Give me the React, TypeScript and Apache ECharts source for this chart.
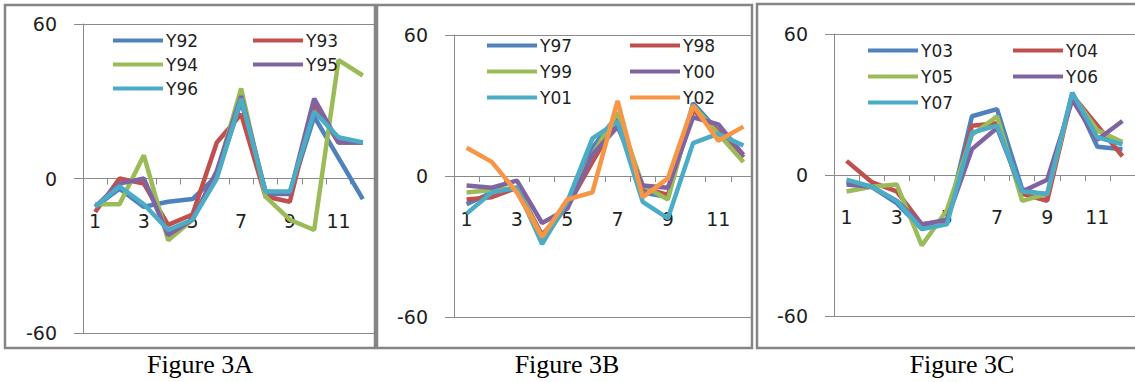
import React, { useEffect, useRef } from "react";
import * as echarts from "echarts";

const categories = ["1", "2", "3", "4", "5", "6", "7", "8", "9", "10", "11", "12"];
const yTicks = [-60, 0, 60];

const namesA = ["Y92", "Y93", "Y94", "Y95", "Y96"];
const Y92 = [-11, -4, -11, -9, -8, 1, 30, -6, -6, 24, 8, -8];
const Y93 = [-13, 0, -2, -18, -14, 14, 25, -7, -9, 29, 14, 14];
const Y94 = [-10, -10, 9, -24, -16, 2, 35, -7, -16, -20, 46, 40];
const Y95 = [-11, -2, 0, -22, -16, 3, 32, -5, -6, 31, 14, 14];
const Y96 = [-11, -3, -10, -20, -16, 0, 31, -5, -5, 26, 16, 14];

const namesB = ["Y97", "Y98", "Y99", "Y00", "Y01", "Y02"];
const Y97 = [-12, -7, -5, -28, -12, 12, 26, -7, -9, 31, 19, 8];
const Y98 = [-10, -9, -5, -25, -13, 6, 24, -5, -8, 28, 19, 8];
const Y99 = [-7, -6, -5, -26, -12, 9, 27, -4, -10, 30, 18, 6];
const Y00 = [-4, -5, -2, -20, -14, 9, 21, -4, -5, 25, 22, 9];
const Y01 = [-16, -7, -5, -29, -11, 16, 23, -11, -18, 14, 18, 13];
const Y02 = [12, 6, -7, -26, -10, -7, 32, -9, -1, 30, 15, 21];

const namesC = ["Y03", "Y04", "Y05", "Y06", "Y07"];
const Y03 = [-3, -5, -12, -23, -20, 25, 28, -6, -9, 35, 12, 11];
const Y04 = [6, -3, -7, -21, -20, 21, 22, -8, -11, 34, 21, 8];
const Y05 = [-7, -5, -4, -30, -15, 17, 25, -11, -8, 34, 19, 14];
const Y06 = [-4, -5, -11, -21, -19, 11, 20, -7, -2, 32, 15, 23];
const Y07 = [-2, -5, -11, -23, -21, 18, 21, -7, -8, 35, 16, 13];

const captions = ["Figure 3A", "Figure 3B", "Figure 3C"];

const COLORS = ["#4F81BD", "#C0504D", "#9BBB59", "#8064A2", "#4BACC6", "#F79646"];
const AXIS = "#8a8a8a";
const FONT = "DejaVu Sans";

export default function App() {
  const ref = useRef<HTMLDivElement>(null);
  useEffect(() => {
    document.body.style.margin = "0";
    const chart = echarts.init(ref.current!, null, { renderer: "svg" });

    const panels = [
      { names: namesA, data: [Y92, Y93, Y94, Y95, Y96], grid: { left: 83, top: 24, width: 292, height: 309 }, margin: 33, legendX: [113, 253], legendY: [41, 65, 89] },
      { names: namesB, data: [Y97, Y98, Y99, Y00, Y01, Y02], grid: { left: 454, top: 35, width: 302, height: 282 }, margin: 33, legendX: [487, 630], legendY: [46, 72, 98] },
      { names: namesC, data: [Y03, Y04, Y05, Y06, Y07], grid: { left: 834, top: 34, width: 304, height: 282 }, margin: 32, legendX: [868, 1013], legendY: [51, 77, 103] },
    ];

    const grids: any[] = [];
    const xAxes: any[] = [];
    const yAxes: any[] = [];
    const series: any[] = [];
    const legends: any[] = [];

    panels.forEach((p, gi) => {
      grids.push({ ...p.grid, containLabel: false });
      xAxes.push({
        type: "category",
        gridIndex: gi,
        position: "bottom",
        offset: -p.grid.height / 2,
        data: categories,
        boundaryGap: true,
        axisLine: { show: true, onZero: false, lineStyle: { color: AXIS, width: 1 } },
        axisTick: { show: true, interval: 0, length: 6, inside: false, lineStyle: { color: AXIS } },
        axisLabel: { interval: 1, margin: p.margin, fontSize: 19, fontFamily: FONT, color: "#1f1f1f" },
        splitLine: { show: false },
      });
      yAxes.push({
        type: "value",
        gridIndex: gi,
        min: yTicks[0],
        max: yTicks[yTicks.length - 1],
        interval: 60,
        axisLine: { show: true, lineStyle: { color: AXIS, width: 1 } },
        axisTick: { show: true, length: 9, inside: false, lineStyle: { color: AXIS } },
        axisLabel: { margin: 26, fontSize: 19, fontFamily: FONT, color: "#1f1f1f" },
        splitLine: { show: true, lineStyle: { color: AXIS, width: 1 } },
      });
      p.names.forEach((n, si) => {
        series.push({
          type: "line",
          name: n,
          xAxisIndex: gi,
          yAxisIndex: gi,
          data: p.data[si],
          showSymbol: false,
          symbol: "none",
          lineStyle: { width: 4.5, color: COLORS[si] },
          itemStyle: { color: COLORS[si] },
        });
        const col = si % 2;
        const row = Math.floor(si / 2);
        legends.push({
          data: [n],
          left: p.legendX[col],
          top: p.legendY[row] - 9,
          padding: 0,
          icon: "rect",
          itemWidth: 50,
          itemHeight: 4,
          itemGap: 0,
          selectedMode: false,
          textStyle: { fontSize: 17, fontFamily: FONT, color: "#1f1f1f", padding: [0, 0, 0, -2] },
        });
      });
    });

    const border = { fill: "none", stroke: "#858585", lineWidth: 2.5 };
    chart.setOption({
      animation: false,
      grid: grids,
      xAxis: xAxes,
      yAxis: yAxes,
      series,
      legend: legends,
      graphic: [
        { type: "rect", z: 90, shape: { x: 753, y: 0, width: 3, height: 350 }, style: { fill: "#fff" } },
        { type: "rect", z: 100, shape: { x: 5, y: 5, width: 370, height: 343 }, style: border },
        { type: "rect", z: 100, shape: { x: 377, y: 5, width: 375, height: 343 }, style: border },
        { type: "rect", z: 100, shape: { x: 757, y: 4, width: 390, height: 344 }, style: border },
        { type: "text", z: 100, x: 200, y: 364, style: { text: captions[0], font: "26px 'Liberation Serif'", fill: "#000", textAlign: "center", textVerticalAlign: "middle" } },
        { type: "text", z: 100, x: 567, y: 364, style: { text: captions[1], font: "26px 'Liberation Serif'", fill: "#000", textAlign: "center", textVerticalAlign: "middle" } },
        { type: "text", z: 100, x: 962, y: 364, style: { text: captions[2], font: "26px 'Liberation Serif'", fill: "#000", textAlign: "center", textVerticalAlign: "middle" } },
      ],
    });
    return () => chart.dispose();
  }, []);
  return <div ref={ref} style={{ width: 1135, height: 382 }} />;
}
